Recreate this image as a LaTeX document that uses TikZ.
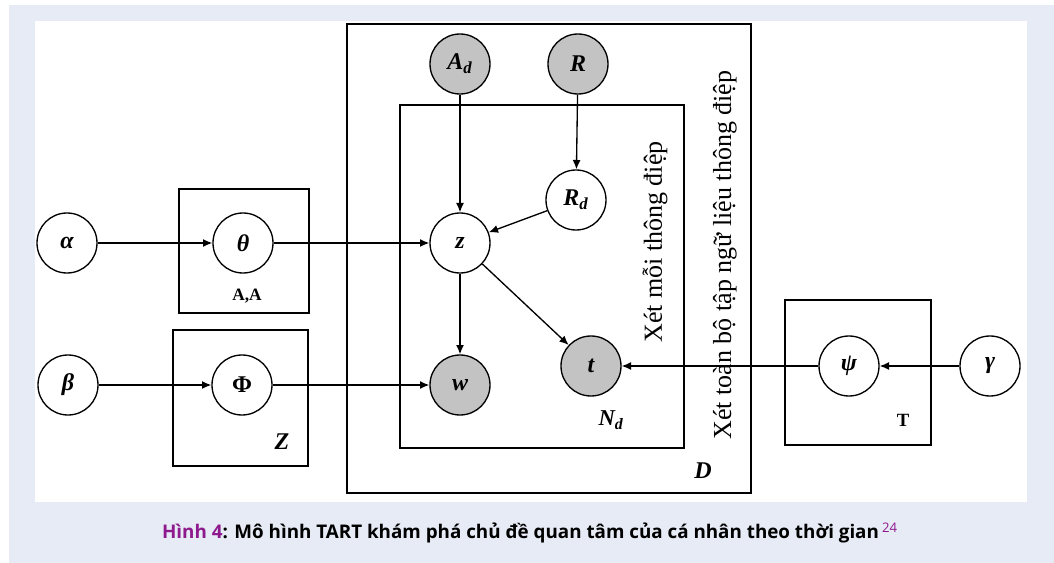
\documentclass[tikz,border=0pt]{standalone}
\usepackage{fontspec}
\setmainfont{Liberation Serif}
\newfontfamily\capfont{Open Sans}
\usetikzlibrary{arrows.meta,positioning}
\definecolor{pagebg}{HTML}{E6EBF5}
\definecolor{capviolet}{HTML}{8E1A8E}
\definecolor{obsgray}{HTML}{C3C3C3}
\newcommand{\vlabel}[1]{{\bfseries\itshape #1}}

\begin{document}
\begin{tikzpicture}[
  x=0.75pt, y=-0.75pt,
  >={Latex[length=7pt,width=6pt]},
  var/.style={circle, draw, line width=1pt, minimum size=45pt, inner sep=0pt,
    font=\fontsize{18}{20}\selectfont},
  obs/.style={var, fill=obsgray},
  plate/.style={draw, line width=1pt},
  platelabel/.style={font=\fontsize{18}{20}\selectfont},
  sidetext/.style={rotate=90, font=\fontsize{19.5}{22}\selectfont}
]
  \useasboundingbox (0,0) rectangle (1054,563);
  \fill[pagebg] (9,5) rectangle (1054,563);
  \fill[white] (35,21) rectangle (1027,502);

  % plates
  \draw[plate] (179,189) rectangle (309,313);
  \draw[plate] (173,330) rectangle (308,466);
  \draw[plate] (347,24) rectangle (751,493);
  \draw[plate] (400,105) rectangle (684,448);
  \draw[plate] (785,300) rectangle (931,445);

  \node[font=\fontsize{13}{15}\selectfont] (lblA) at (247,296) {\textbf{A,A}};
  \node[platelabel] (lblZ) at (282,442) {\vlabel{Z}};
  \node[platelabel] (lblD) at (703,471) {\vlabel{D}};
  \node[font=\fontsize{17}{19}\selectfont] (lblN) at (611,420) {\vlabel{N\textsubscript{d}}};
  \node[font=\fontsize{14}{16}\selectfont] (lblT) at (903,420) {\textbf{T}};

  \node[sidetext] (msg) at (655,242) {Xét mỗi thông điệp};
  \node[sidetext] (corpus) at (725,255) {Xét toàn bộ tập ngữ liệu thông điệp};

  % variables
  \node[var] (alpha) at (67,243) {\vlabel{α}};
  \node[var] (theta) at (243,243) {\vlabel{θ}};
  \node[var] (beta) at (68,385) {\vlabel{β}};
  \node[var] (Phi) at (242,385) {\textbf{Φ}};
  \node[obs] (Ad) at (460,64) {\vlabel{A\textsubscript{d}}};
  \node[obs] (R) at (578,64) {\vlabel{R}};
  \node[var] (Rd) at (576,200) {\vlabel{R\textsubscript{d}}};
  \node[var] (z) at (460,243) {\vlabel{z}};
  \node[obs] (w) at (460,385) {\vlabel{w}};
  \node[obs] (t) at (591,366) {\vlabel{t}};
  \node[var] (psi) at (849,366) {\vlabel{ψ}};
  \node[var] (gamma) at (990,366) {\vlabel{γ}};

  \path[->, line width=1pt]
    (alpha) edge (theta)
    (theta) edge (z)
    (beta) edge (Phi)
    (Phi) edge (w)
    (Ad) edge (z)
    (R) edge (Rd)
    (Rd) edge (z)
    (z) edge (w)
    (z) edge (t)
    (psi) edge (t)
    (gamma) edge (psi);

  \node (caption) at (530,533) {\capfont\bfseries\fontsize{14.1}{17}\selectfont
    \textcolor{capviolet}{Hình 4}: Mô hình TART khám phá chủ đề quan tâm của cá nhân theo thời gian\,\textsuperscript{\mdseries\color{capviolet}24}};
\end{tikzpicture}
\end{document}
